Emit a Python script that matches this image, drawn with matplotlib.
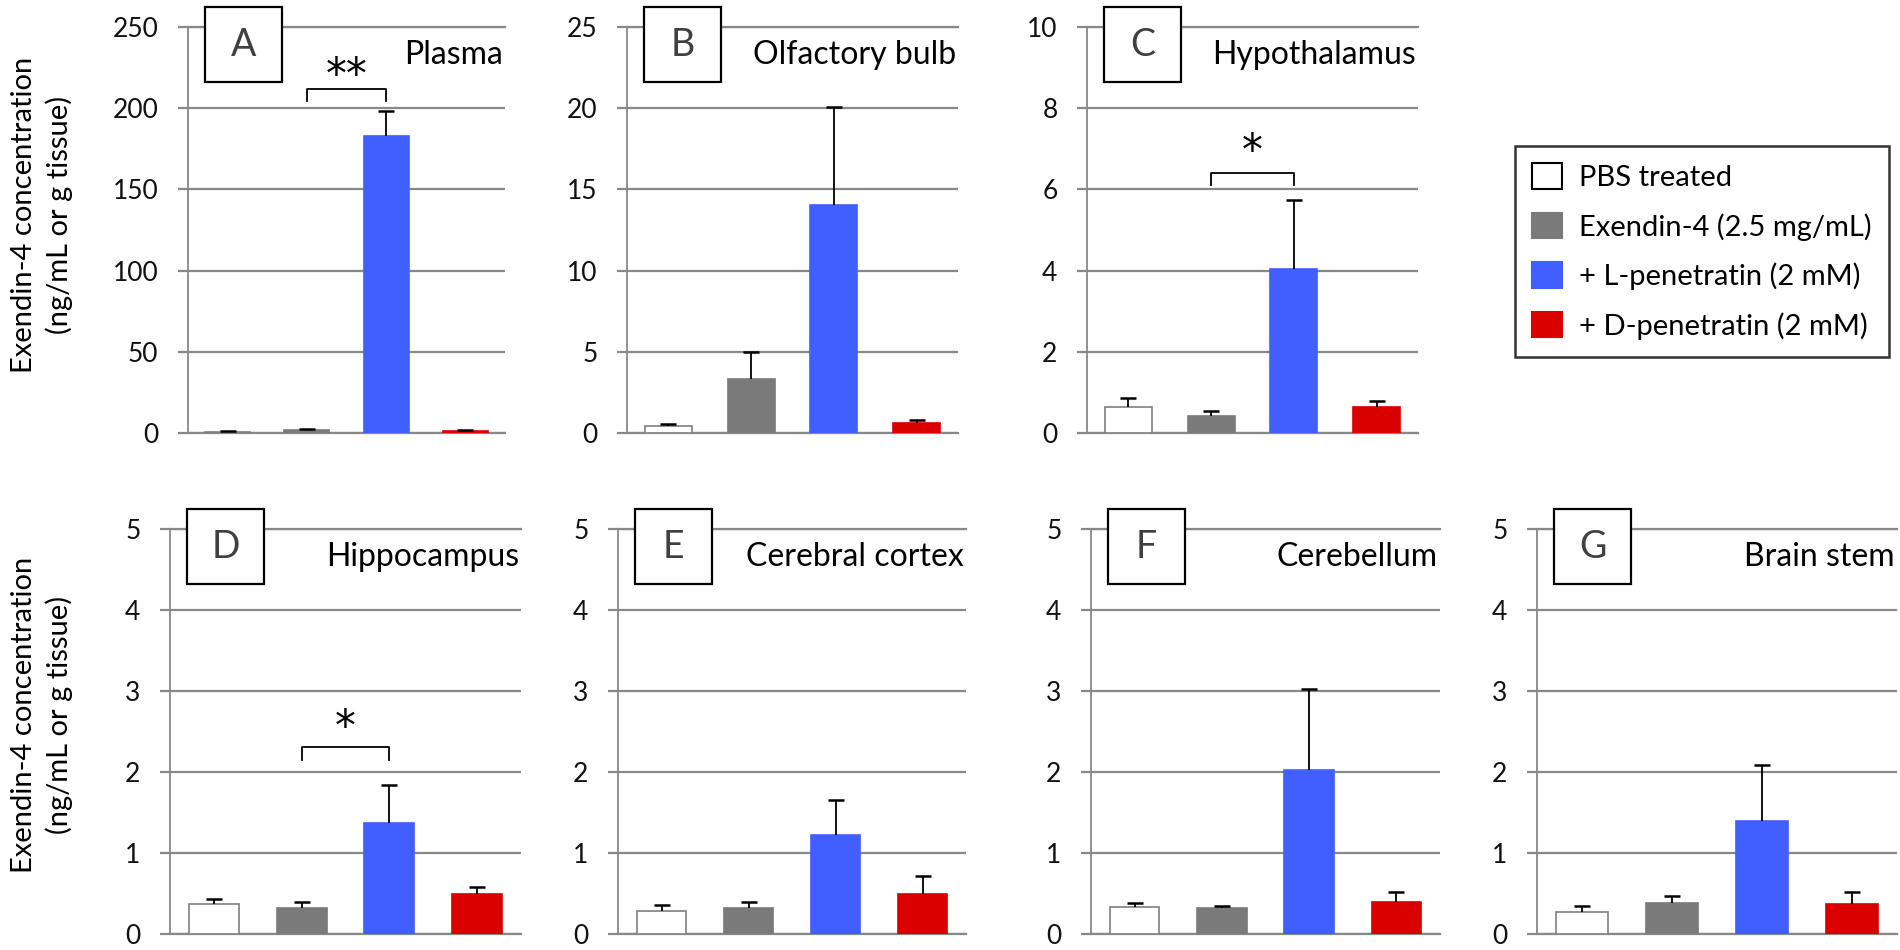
import matplotlib
matplotlib.use("Agg")
import matplotlib.pyplot as plt
from matplotlib.patches import Patch, Rectangle

plt.rcParams['font.family'] = ['Lato', 'DejaVu Sans']

# groups (legend order)
groups = ['PBS treated', 'Exendin-4 (2.5 mg/mL)', '+ L-penetratin (2 mM)', '+ D-penetratin (2 mM)']
colors = ['#ffffff', '#7a7a7a', '#415fff', '#da0000']

letters = ['A', 'B', 'C', 'D', 'E', 'F', 'G']
tissues = ['Plasma', 'Olfactory bulb', 'Hypothalamus', 'Hippocampus',
           'Cerebral cortex', 'Cerebellum', 'Brain stem']
ymax = [250, 25, 10, 5, 5, 5, 5]
ystep = [50, 5, 2, 1, 1, 1, 1]

# mean values per tissue, same order as groups
means = [
    [0.7, 1.7, 183.0, 1.4],
    [0.46, 3.32, 14.05, 0.64],
    [0.64, 0.43, 4.03, 0.65],
    [0.37, 0.325, 1.37, 0.49],
    [0.29, 0.32, 1.22, 0.50],
    [0.33, 0.32, 2.03, 0.39],
    [0.275, 0.38, 1.39, 0.37],
]
# upper error (SEM)
errs = [
    [0.3, 0.6, 15.0, 0.6],
    [0.10, 1.66, 6.0, 0.15],
    [0.22, 0.12, 1.72, 0.15],
    [0.06, 0.065, 0.47, 0.09],
    [0.07, 0.08, 0.43, 0.22],
    [0.05, 0.025, 0.99, 0.13],
    [0.07, 0.09, 0.70, 0.15],
]
# significance brackets: panel index -> (label, bracket top, leg bottom, star y)
sig = {0: ('**', 211.6, 204.4, 220.0),
       2: ('*', 6.4, 6.12, 6.92),
       3: ('*', 2.31, 2.15, 2.54)}

W, H = 1900, 950
# axes frames in pixels (left, right, top, bottom)
frames = [(188, 505, 27, 433), (627, 958, 27, 433), (1087, 1418, 27, 433),
          (170, 521, 529, 934), (618, 966, 529, 934), (1091, 1440, 529, 934),
          (1537, 1897, 529, 934)]

fig = plt.figure(figsize=(W / 100, H / 100), dpi=100)
grid_c = '#888888'

for i in range(7):
    l, r, t, b = frames[i]
    ax = fig.add_axes([l / W, 1 - b / H, (r - l) / W, (b - t) / H])
    x = range(4)
    ax.bar(x, means[i], width=0.57, color=colors,
           edgecolor=['#7f7f7f', colors[1], colors[2], colors[3]], linewidth=1.2, zorder=3)
    eb = ax.errorbar(x, means[i], yerr=[[0] * 4, errs[i]], fmt='none', ecolor='black',
                     elinewidth=1.3, capsize=5.5, capthick=1.8, zorder=4)
    eb[1][0].set_visible(False)  # no cap at the bar top
    ax.set_xlim(-0.5, 3.5)
    ax.set_ylim(0, ymax[i])
    ax.set_yticks(range(0, ymax[i] + 1, ystep[i]))
    ax.set_xticks([])
    ax.yaxis.grid(True, color=grid_c, linewidth=1.6, zorder=0)
    ax.set_axisbelow(True)
    ax.spines['right'].set_visible(False)
    for s in ['left', 'bottom', 'top']:
        ax.spines[s].set_color(grid_c)
        ax.spines[s].set_linewidth(1.6)
    ax.spines['left'].set_linewidth(1.3)
    ax.tick_params(axis='y', length=7.2, width=1.6, color=grid_c, pad=14, labelsize=19)
    for lab in ax.get_yticklabels():
        lab.set_color('#111111')

    # tissue title, right aligned
    ax.text(r / W - 0.001, 1 - (t + 37) / H, tissues[i], transform=fig.transFigure,
            ha='right', va='baseline', fontsize=23, color='black')

    # letter box
    bx, bw, by, bh = l + 17, 77, t - 20, 75
    fig.add_artist(Rectangle((bx / W, 1 - (by + bh) / H), bw / W, bh / H,
                             transform=fig.transFigure, facecolor='white',
                             edgecolor='black', linewidth=1.6, zorder=10))
    fig.text((bx + bw / 2) / W, 1 - (by + bh / 2) / H, letters[i], ha='center', va='center',
             fontsize=27, color='#404040', zorder=11)

    if i in sig:
        lab, ytop, yleg, ystar = sig[i]
        ax.plot([1, 1, 2, 2], [yleg, ytop, ytop, yleg], color='black', linewidth=1.3,
                zorder=5, clip_on=False)
        ax.text(1.5, ystar, lab, ha='center', va='center', fontsize=30,
                family='DejaVu Sans', zorder=5)

# y labels for both rows
for yc in (215, 715):
    fig.text(42 / W, 1 - yc / H, 'Exendin-4 concentration\n(ng/mL or g tissue)',
             rotation=90, ha='center', va='center', multialignment='center',
             fontsize=21, linespacing=1.4)

handles = [Patch(facecolor=c, edgecolor='black' if k == 0 else c, linewidth=1.5)
           for k, c in enumerate(colors)]
leg = fig.legend(handles, groups, loc='center', bbox_to_anchor=(1702 / W, 1 - 251.5 / H),
                 fontsize=21, frameon=True, fancybox=False, edgecolor='black',
                 handlelength=1.0, handleheight=0.95, labelspacing=0.75,
                 borderpad=0.6, handletextpad=0.6)
leg.get_frame().set_linewidth(1.8)

fig.savefig('out.png', dpi=100)
